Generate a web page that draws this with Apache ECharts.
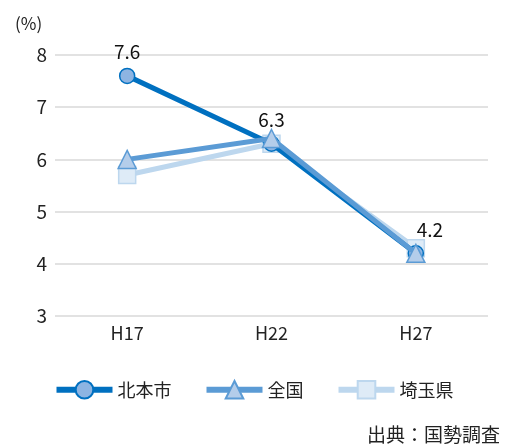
<!DOCTYPE html>
<html>
<head>
<meta charset="utf-8">
<script src="https://cdn.jsdelivr.net/npm/echarts@6/dist/echarts.min.js"></script>
<style>
  html, body { margin: 0; padding: 0; background: #fff; }
  #chart { width: 507px; height: 448px; }
</style>
</head>
<body>
<div id="chart"></div>
<script>
// data
const years = ["H17", "H22", "H27"];
const kitamoto = [7.6, 6.3, 4.2];
const zenkoku = [6.0, 6.4, 4.2];
const saitama = [5.7, 6.3, 4.3];
const yTicks = [3, 4, 5, 6, 7, 8];

const chart = echarts.init(document.getElementById('chart'));
const font = '"Noto Sans CJK JP", "Noto Sans", sans-serif';

const option = {
    animation: false,
    textStyle: { fontFamily: font },
    title: [
        { text: '(%)', left: 10, top: 10, textStyle: { fontSize: 17, fontWeight: 'normal', color: '#222', fontFamily: font } },
        { text: '出典：国勢調査', right: 2, top: 420, textStyle: { fontSize: 19, fontWeight: 'normal', color: '#222', fontFamily: font } }
    ],
    legend: {
        data: ['北本市', '全国', '埼玉県'],
        top: 375,
        left: 'center',
        itemWidth: 56,
        itemHeight: 22,
        itemGap: 32,
        lineStyle: { width: 6 },
        textStyle: { fontSize: 18, color: '#222', fontFamily: font }
    },
    grid: { left: 55, right: 19, top: 55, bottom: 132 },
    xAxis: {
        type: 'category',
        data: years,
        axisLine: { show: false },
        axisTick: { show: false },
        axisLabel: { fontSize: 18, color: '#222', margin: 8, fontFamily: font }
    },
    yAxis: {
        type: 'value',
        min: yTicks[0],
        max: yTicks[yTicks.length - 1],
        interval: 1,
        axisLabel: { fontSize: 19, color: '#222', margin: 8, fontFamily: font },
        splitLine: { lineStyle: { color: '#d9d9d9', width: 1.5 } }
    },
    series: [
        {
            name: '埼玉県',
            type: 'line',
            data: saitama,
            symbol: 'rect',
            symbolSize: 17,
            z: 2,
            lineStyle: { color: '#bdd7ee', width: 5 },
            itemStyle: { color: '#deebf7', borderColor: '#bdd7ee', borderWidth: 1.5 }
        },
        {
            name: '北本市',
            type: 'line',
            data: kitamoto.map((v, i) => i === 2 ? { value: v, label: { offset: [14, 0] } } : v),
            symbol: 'circle',
            symbolSize: 15,
            z: 3,
            lineStyle: { color: '#0070c0', width: 5 },
            itemStyle: { color: '#8db4e2', borderColor: '#0070c0', borderWidth: 1.5 },
            label: { show: true, position: 'top', distance: 6, fontSize: 19, color: '#111', fontFamily: font }
        },
        {
            name: '全国',
            type: 'line',
            data: zenkoku,
            symbol: 'triangle',
            symbolSize: 18,
            z: 4,
            lineStyle: { color: '#5b9bd5', width: 5 },
            itemStyle: { color: '#b4cdea', borderColor: '#5b9bd5', borderWidth: 1.5 }
        }
    ]
};

chart.setOption(option);
</script>
</body>
</html>
